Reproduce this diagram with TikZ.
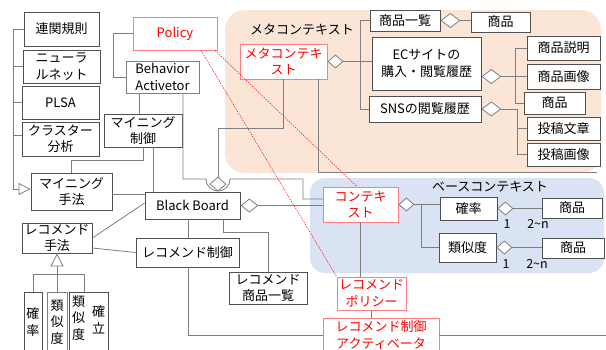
\documentclass[tikz,border=0pt]{standalone}
\usepackage{fontspec}
\setmainfont{Noto Sans CJK JP}
\usetikzlibrary{arrows.meta}
\definecolor{peach}{HTML}{FBE5D6}
\definecolor{lblue}{HTML}{DAE3F3}
\definecolor{lgray}{HTML}{7F7F7F}
\definecolor{bgray}{HTML}{505050}
\definecolor{rborder}{HTML}{FF7C80}
\newcommand\fs{\fontsize{13}{16.5}\selectfont}
\newcommand\fsm{\fontsize{12.5}{14}\selectfont}
\begin{document}
\begin{tikzpicture}[x=1pt,y=-1pt,
  box/.style={draw=bgray, fill=white, line width=0.8pt, inner sep=0pt, align=center, font=\fs},
  rbox/.style={box, draw=rborder, text=red},
  conn/.style={draw=lgray, line width=0.8pt},
  dia/.style={conn, {Diamond[open,fill=white,length=16pt,width=14pt]}-},
  tri/.style={conn, {Triangle[open,fill=white,length=13pt,width=13pt]}-},
  reddot/.style={draw=red!85, line width=0.6pt, dash pattern=on 1.5pt off 1.2pt},
  lbl/.style={inner sep=0pt, font=\fs},
  num/.style={inner sep=0pt, font=\fsm}]
\useasboundingbox (0,0) rectangle (606,349);
% background regions
\fill[peach, rounded corners=20pt] (225,10) rectangle (601,173);
\fill[lblue, rounded corners=15pt] (310,178) rectangle (604,273);
\node[lbl] (metalbl) at (302,30) {メタコンテキスト};
\node[lbl] (baselbl) at (490,187) {ベースコンテキスト};

% left column
\node[box, minimum width=75pt, minimum height=34pt] (rensoku) at (61.5,29) {連関規則};
\node[box, minimum width=77pt, minimum height=33pt] (neural) at (61.5,66.5) {ニューラ\\ルネット};
\node[box, minimum width=77pt, minimum height=33pt] (plsa) at (60.5,102.5) {PLSA};
\node[box, minimum width=77pt, minimum height=34pt] (cluster) at (60.5,139) {クラスター\\分析};
\node[rbox, minimum width=84pt, minimum height=33pt] (policy) at (175,33.5) {Policy};
\node[box, draw=lgray, minimum width=73pt, minimum height=32pt] (behav) at (162.5,77) {Behavior\\Activetor};
\node[box, minimum width=78pt, minimum height=33pt] (mctrl) at (143,130.5) {マイニング\\制御};
\node[box, minimum width=81pt, minimum height=37pt] (mmeth) at (71.5,191.5) {マイニング\\手法};
\node[box, minimum width=95pt, minimum height=27pt] (bb) at (192.5,205.5) {Black Board};
\node[box, minimum width=70pt, minimum height=30pt] (rmeth) at (57,238) {レコメンド\\手法};
\node[box, minimum width=103pt, minimum height=29pt] (rctrl) at (187.5,252.5) {レコメンド制御};
\node[box, minimum width=78pt, minimum height=32pt] (rlist) at (268,288) {レコメンド\\商品一覧};
\node[box, minimum width=18pt, minimum height=60pt] (kakuritsu) at (33,322) {確\\率};
\node[box, draw=lgray, minimum width=20pt, minimum height=60pt] (ruiji) at (57,322) {類\\似\\度};
\node[box, minimum width=39pt, minimum height=60pt] (ruijikaku) at (88.5,322) {};
\node[lbl, align=center] (rk1) at (78.5,318) {類\\似\\度};
\node[lbl, align=center] (rk2) at (98.5,320) {確\\立};

% meta context area
\node[rbox, minimum width=87pt, minimum height=35pt] (meta) at (283.5,61.5) {メタコンテキ\\スト};
\node[box, minimum width=70pt, minimum height=21pt] (shohinlist) at (405,20.5) {商品一覧};
\node[box, minimum width=59pt, minimum height=20pt] (shohinA) at (500.5,22) {商品};
\node[box, minimum width=109pt, minimum height=53pt] (ec) at (426.5,63.5) {ECサイトの\\購入・閲覧履歴};
\node[box, minimum width=112pt, minimum height=26pt] (sns) at (425,109) {SNSの閲覧履歴};
\node[box, minimum width=73pt, minimum height=24pt] (setsumei) at (563.5,48) {商品説明};
\node[box, minimum width=73pt, minimum height=25pt] (gazou) at (563.5,76.5) {商品画像};
\node[box, minimum width=61pt, minimum height=22pt] (shohinB) at (554.5,103) {商品};
\node[box, minimum width=73pt, minimum height=23pt] (toukoubun) at (563.5,128.5) {投稿文章};
\node[box, minimum width=73pt, minimum height=23pt] (toukougazou) at (563.5,154.5) {投稿画像};

% base context area
\node[rbox, minimum width=75pt, minimum height=35pt] (ctx) at (360.5,204.5) {コンテキ\\スト};
\node[box, minimum width=57pt, minimum height=23pt] (kaku2) at (468.5,208.5) {確率};
\node[box, minimum width=57pt, minimum height=29pt] (ruiji2) at (467.5,247.5) {類似度};
\node[box, minimum width=60pt, minimum height=20pt] (shohinC) at (572,208) {商品};
\node[box, minimum width=62pt, minimum height=20pt] (shohinD) at (573,248) {商品};
\node[num] (n1a) at (507,224) {1};
\node[num] (n2a) at (538,224) {2\textasciitilde n};
\node[num] (n1b) at (506,264) {1};
\node[num] (n2b) at (537,264) {2\textasciitilde n};

\node[rbox, minimum width=69pt, minimum height=33pt] (policy2) at (371.5,293.5) {レコメンド\\ポリシー};
\node[rbox, minimum width=116pt, minimum height=34pt] (activ) at (381,335) {レコメンド制御\\アクティベータ};
\coordinate (rend) at (606,335);
\coordinate (pend) at (597,172);

% connectors: left bracket
\coordinate (lb) at (13,189);
\draw[conn,-{Triangle[open,fill=white,length=12pt,width=12pt]}] (rensoku.west) -| (lb) -- (mmeth.west |- lb);
\draw[conn] (neural.west) -- (neural.west -| lb);
\draw[conn] (plsa.west) -- (plsa.west -| lb);
\draw[conn] (cluster.west |- 0,135) -- (lb |- 0,135);

\draw[conn] (policy.west) -- ++(-19,0) |- (behav.west);
\draw[conn] (behav.south -| 139,0) -- (mctrl.north -| 139,0);
\draw[conn] (mctrl.south -| 153,0) -- (bb.north -| 153,0);
\draw[conn] (mctrl.south) -- ++(0,13) -| (mmeth.north);
\draw[conn] (mmeth.east |- 0,194) -- (bb.west |- 0,194);
\draw[conn] (rmeth.east) -- (bb.west |- 0,203);
\draw[conn] (rmeth.east |- 0,248) -- (rctrl.west);
\draw[tri] (rmeth.south) -- (ruiji.north);
\draw[conn] (kakuritsu.north) |- (84,274) -- (ruijikaku.north -| 84,0);

% behaviour activator to context with hop
\draw[conn] (behav.south -| 183,0) |- (206,179) arc[start angle=180,end angle=0,radius=12] -- (303,179) |- ([yshift=5.5pt]ctx.west);
% meta context to black board
\draw[conn, {Diamond[open,fill=white,length=15pt,width=17pt]}-] (bb.north -| 218,0) -- (218,128) -| (meta.south);
\draw[conn] (meta.south -| 318,0) -- (318,172) -- (pend);

\draw[conn, {Diamond[open,fill=white,length=18pt,width=14pt]}-] (bb.east) -- (ctx.west |- bb.east);
\draw[conn] (bb.south -| 188,0) -- (rctrl.north -| 188,0);
\draw[conn] (bb.south -| 223,0) -- (223,232) -| (rlist.north);

% meta branches
\draw[dia] (meta.east) -- (ec.west |- meta.east);
\draw[conn] (shohinlist.west) -| (360,109) -- (sns.west);
\draw[conn, {Diamond[open,fill=white,length=20pt,width=15pt]}-] (shohinlist.east) -- (shohinA.west |- shohinlist.east);
\draw[conn, {Diamond[open,fill=white,length=20pt,width=15pt]}-] (ec.east |- gazou.west) -- (gazou.west);
\draw[conn] (setsumei.west) -| (515,103) -- (shohinB.west);
\draw[conn, {Diamond[open,fill=white,length=20pt,width=15pt]}-] (sns.east) -- (517,109) |- (toukougazou.west);
\draw[conn] (toukoubun.west) -- (517,128.5);

% base branches
\draw[dia] (ctx.east) -- (kaku2.west |- ctx.east);
\draw[conn] (421,204.5) |- (ruiji2.west);
\draw[dia] (kaku2.east) -- (shohinC.west |- kaku2.east);
\draw[dia] (ruiji2.east) -- (shohinD.west |- ruiji2.east);

\draw[conn] (ctx.south) -- (policy2.north -| ctx.south);
\draw[conn] (policy2.south) -- (activ.north -| policy2.south);
\draw[conn] (rctrl.south -| 188,0) |- (activ.west);
\draw[conn] (activ.east) -- (rend);

% red dotted relations
\draw[reddot] (policy.south -| 201,0) -- (policy2.north west);
\draw[reddot] (policy.south -| 215,0) -- (ctx.north -| 357,0);
\end{tikzpicture}
\end{document}
